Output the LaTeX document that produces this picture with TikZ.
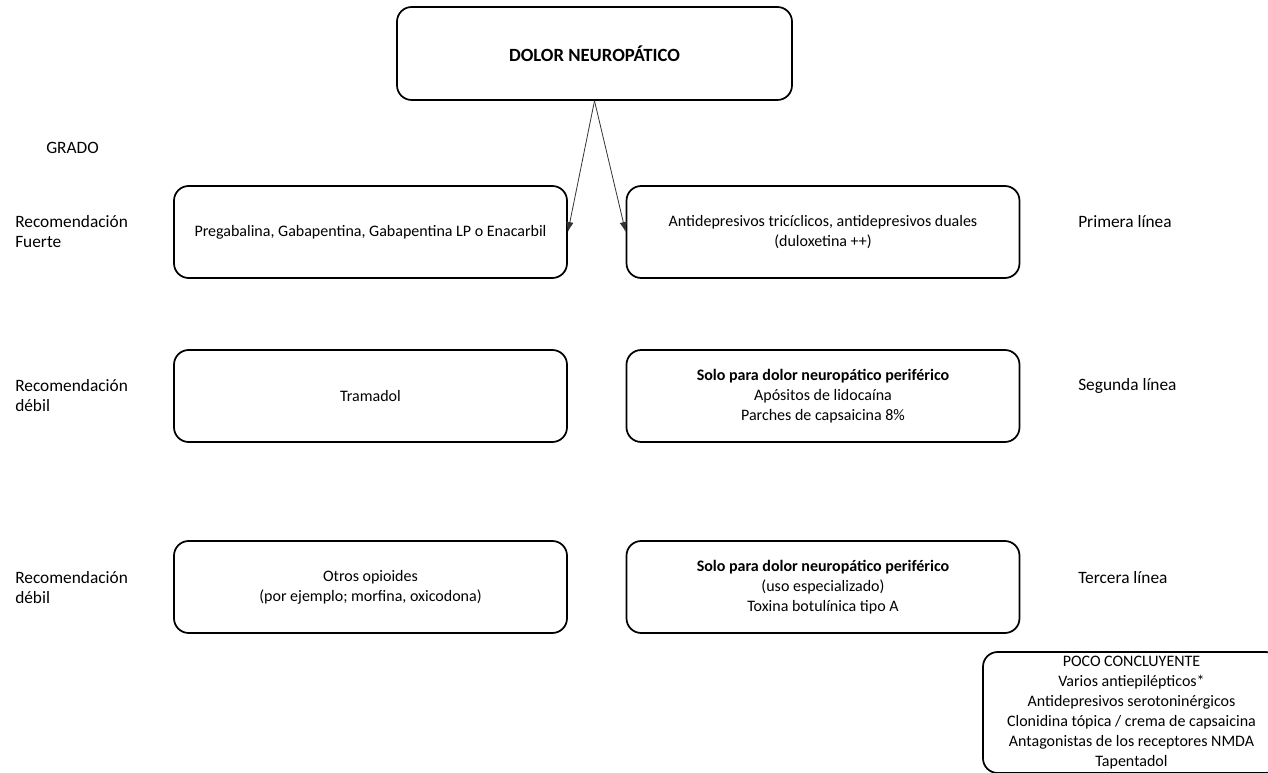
\documentclass[tikz,border=0pt]{standalone}
\usepackage{fontspec}
\setmainfont{Carlito}
\usepackage{tikz}
\usetikzlibrary{arrows.meta}

\begin{document}
\begin{tikzpicture}[x=0.75pt,y=-0.75pt]

  \tikzset{BOX/.style={draw, line width=1.3pt, rounded corners=11pt, align=center,
      minimum width=393*0.75pt, minimum height=92*0.75pt, inner sep=0pt,
      font=\fontsize{12}{15}\selectfont}}

  \tikzset{LBL/.style={anchor=west, align=left, inner sep=0pt,
      font=\fontsize{13}{15}\selectfont}}

  \tikzset{ARR/.style={->, >={Latex[length=7.5pt,width=5.5pt]}, line width=0.6pt, draw=black!80}}

  \useasboundingbox (0,0) rectangle (1268,773);

  \node[BOX, minimum width=395*0.75pt, minimum height=93*0.75pt,
        font=\fontsize{14}{15}\selectfont] (top) at (594.5, 53.5)
      {\textbf{DOLOR NEUROPÁTICO}};

  \node[BOX] (a1) at (370.5, 232.0) {Pregabalina, Gabapentina, Gabapentina LP o Enacarbil};
  \node[BOX] (b1) at (823.0, 232.0) {Antidepresivos tricíclicos, antidepresivos duales\\(duloxetina ++)};

  \node[BOX] (a2) at (370.5, 396.0) {Tramadol};
  \node[BOX] (b2) at (823.0, 396.0) {\textbf{Solo para dolor neuropático periférico}\\Apósitos de lidocaína\\Parches de capsaicina 8\%};

  \node[BOX] (a3) at (370.5, 587.0) {Otros opioides\\(por ejemplo; morfina, oxicodona)};
  \node[BOX] (b3) at (823.0, 587.0) {\textbf{Solo para dolor neuropático periférico}\\(uso especializado)\\Toxina botulínica tipo A};

  \node[BOX, minimum width=297*0.75pt, minimum height=121*0.75pt] (c4) at (1131.5, 712.5)
      {POCO CONCLUYENTE\\Varios antiepilépticos*\\Antidepresivos serotoninérgicos\\Clonidina tópica / crema de capsaicina\\Antagonistas de los receptores NMDA\\Tapentadol};

  \node[LBL] (grado) at (46, 148) {GRADO};
  \node[LBL] (g1) at (15, 232) {Recomendación\\Fuerte};
  \node[LBL] (g2) at (15, 396) {Recomendación\\débil};
  \node[LBL] (g3) at (15, 588) {Recomendación\\débil};

  \node[LBL] (l1) at (1078, 222) {Primera línea};
  \node[LBL] (l2) at (1078, 386) {Segunda línea};
  \node[LBL] (l3) at (1078, 578) {Tercera línea};

  \draw[ARR] (top.south) -- (a1.east);
  \draw[ARR] (top.south) -- (b1.west);
\end{tikzpicture}
\end{document}
